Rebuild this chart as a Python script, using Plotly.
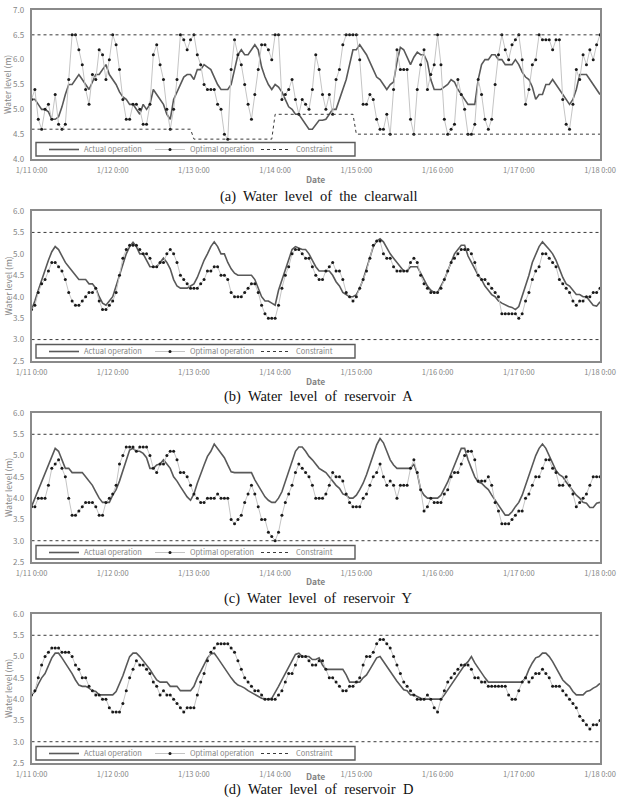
import pandas as pd
import plotly.graph_objects as go

# ---------------- data ----------------
start = "2018-01-11 00:00"
n_hours = 169
tick_labels = ["1/11 0:00", "1/12 0:00", "1/13 0:00", "1/14 0:00",
               "1/15 0:00", "1/16 0:00", "1/17 0:00", "1/18 0:00"]

series_names = ["Actual operation", "Optimal operation", "Constraint"]
captions = ["(a)\u00a0 Water\u00a0 level\u00a0 of\u00a0 the\u00a0 clearwall",
            "(b)\u00a0 Water\u00a0 level\u00a0 of\u00a0 reservoir\u00a0 A",
            "(c)\u00a0 Water\u00a0 level\u00a0 of\u00a0 reservoir\u00a0 Y",
            "(d)\u00a0 Water\u00a0 level\u00a0 of\u00a0 reservoir\u00a0 D"]

# (a) clearwall
opt_a = [5.2,5.4,4.8,4.6,5.0,5.1,4.8,5.3,4.7,4.6,4.7,5.6,
         6.5,6.5,6.2,5.9,5.4,5.1,5.7,5.6,6.2,6.1,5.6,6.0,
         6.5,6.3,5.8,5.2,4.8,4.8,5.1,5.1,5.0,4.7,4.7,5.1,
         6.1,6.3,5.9,5.6,5.0,4.6,5.0,5.6,6.5,6.4,6.2,6.4,
         6.5,6.1,5.9,5.5,5.4,5.4,5.4,5.1,5.0,4.5,4.4,5.8,
         6.4,6.1,5.9,5.5,5.1,4.8,5.3,5.8,6.3,6.3,6.2,6.0,
         6.5,6.5,5.2,5.3,5.4,5.6,5.2,4.9,5.2,5.1,5.0,5.4,
         6.1,5.8,5.3,5.0,5.3,4.9,5.6,5.8,6.3,6.5,6.5,6.5,
         6.5,6.0,5.1,5.1,5.3,5.2,4.8,4.6,4.6,4.9,4.5,5.4,
         6.2,5.8,5.8,5.8,4.8,4.5,5.4,5.9,6.2,5.4,5.7,5.9,
         6.5,5.9,4.8,4.5,4.6,4.7,5.6,5.3,5.0,4.5,4.5,4.7,
         5.6,5.3,4.8,4.6,4.8,5.5,6.1,6.5,6.2,6.0,6.3,6.4,
         6.5,6.0,5.1,5.4,5.9,6.0,6.5,6.4,6.4,6.4,6.2,6.4,
         6.4,5.2,4.7,4.6,5.1,5.8,5.6,6.1,5.9,6.2,6.0,6.3,
         6.5]
act_a = [5.2,5.2,5.1,5.0,5.0,4.95,4.8,4.8,4.85,5.05,5.3,5.5,
         5.5,5.6,5.7,5.6,5.5,5.4,5.55,5.7,5.7,5.8,5.9,5.7,
         5.6,5.5,5.35,5.25,5.2,5.1,5.1,5.0,4.9,5.1,5.0,5.1,
         5.4,5.3,5.2,5.1,4.9,4.8,5.2,5.35,5.5,5.65,5.7,5.7,
         5.6,5.8,5.8,5.9,5.85,5.8,5.65,5.5,5.4,5.4,5.4,5.5,
         5.8,6.1,6.2,6.1,6.1,6.2,6.3,6.2,5.85,5.65,5.5,5.4,
         5.5,5.45,5.35,5.2,5.05,5.0,4.9,4.9,4.8,4.7,4.6,4.6,
         4.7,4.78,4.78,4.8,
         4.9,5.0,5.0,5.2,5.4,5.6,5.9,6.2,6.2,6.3,6.2,6.1,5.95,5.8,5.65,5.6,
         5.5,5.4,5.5,5.55,5.95,6.25,6.2,
         6.05,5.9,6.05,6.15,6.1,6.1,5.95,5.6,5.4,5.4,5.4,5.45,5.5,5.6,5.55,
         5.4,5.3,5.2,5.1,5.1,5.1,5.6,5.9,6.0,6.0,6.1,6.1,6.0,6.0,5.9,5.9,
         5.9,6.0,5.9,5.75,5.65,5.6,5.45,5.2,5.3,5.3,5.5,5.5,5.6,5.5,5.4,
         5.3,5.2,5.1,5.2,5.4,5.7,5.7,5.7,5.6,5.5,5.4,5.3]
upper_a = [6.5] * 169
lower_a = [4.6] * 48 + [4.4] * 24 + [4.9] * 24 + [4.5] * 73

# (b) reservoir A
opt_b = [3.7,3.8,4.1,4.3,4.4,4.6,4.8,4.8,4.7,4.6,4.4,4.1,
         3.9,3.8,3.8,3.9,4.0,4.1,4.1,4.2,3.9,3.7,3.7,3.8,
         3.9,4.1,4.5,4.9,5.1,5.2,5.2,5.2,5.1,5.0,5.0,4.9,
         4.7,4.7,4.8,4.8,5.0,5.1,5.0,4.8,4.5,4.4,4.3,4.2,
         4.2,4.2,4.3,4.4,4.6,4.6,4.7,4.7,4.5,4.5,4.4,4.1,
         4.0,4.0,4.0,4.1,4.2,4.3,4.3,4.1,3.8,3.6,3.5,3.5,
         3.5,3.8,4.2,4.5,4.7,5.0,5.1,5.1,5.0,4.9,4.9,4.7,
         4.5,4.4,4.4,4.6,4.7,4.8,4.6,4.6,4.4,4.1,4.0,3.9,
         4.0,4.2,4.4,4.6,4.9,5.2,5.3,5.3,5.0,4.9,4.9,4.7,
         4.6,4.6,4.6,4.6,4.8,4.9,4.8,4.5,4.3,4.2,4.1,4.1,
         4.1,4.2,4.4,4.6,4.8,4.9,5.0,5.1,5.1,5.1,5.0,4.8,
         4.5,4.4,4.4,4.3,4.2,4.1,4.0,3.6,3.6,3.6,3.6,3.6,
         3.5,3.6,3.9,4.1,4.4,4.6,4.7,5.0,5.0,4.9,4.8,4.7,
         4.4,4.3,4.2,4.1,3.9,3.8,3.9,3.9,4.0,4.0,4.1,4.1,
         4.2]
act_b = [3.7,3.9,4.15,4.4,4.65,4.85,5.05,5.17,5.1,4.95,4.8,4.7,
         4.6,4.5,4.4,4.4,4.4,4.3,4.3,4.2,4.0,3.85,3.8,3.9,
         4.0,4.25,4.5,4.8,5.0,5.17,5.27,5.17,5.0,5.0,4.85,4.7,
         4.7,4.7,4.8,4.9,4.8,4.65,4.4,4.25,4.2,4.2,4.2,4.25,
         4.3,4.45,4.65,4.85,5.0,5.17,5.28,5.17,5.0,5.0,4.8,4.65,
         4.55,4.5,4.5,4.5,4.5,4.5,4.4,4.2,4.0,3.9,3.9,3.85,
         3.8,4.15,4.4,4.65,4.9,5.1,5.17,5.13,5.1,5.1,5.0,4.85,4.7,
         4.6,4.6,4.6,4.6,4.5,4.35,4.25,4.1,4.05,4.0,4.0,4.05,
         4.2,4.4,4.65,4.9,5.17,5.3,5.35,5.28,5.13,5.0,4.9,4.8,
         4.7,4.6,4.6,4.7,4.7,4.7,4.55,4.4,4.25,4.15,4.1,4.1,
         4.25,4.4,4.6,4.8,5.0,5.1,5.2,5.2,4.95,4.8,4.65,4.5,
         4.4,4.25,4.15,4.05,4.0,3.9,3.85,3.8,3.77,3.75,3.7,3.77,
         4.0,4.25,4.5,4.8,5.0,5.17,5.28,5.2,5.1,5.0,4.85,4.65,
         4.45,4.3,4.25,4.15,4.05,4.05,4.0,4.0,3.9,3.8,3.78,3.88]

# (c) reservoir Y
opt_c = [3.8,3.8,4.0,4.0,4.0,4.3,4.7,4.8,4.9,4.7,4.5,4.0,
         3.6,3.6,3.7,3.8,3.9,3.9,3.9,3.8,3.6,3.6,3.9,4.0,
         4.1,4.3,4.8,5.0,5.2,5.2,5.2,5.1,5.2,5.2,5.2,5.0,
         4.7,4.6,4.8,4.8,5.0,5.1,5.1,4.9,4.6,4.6,4.5,4.3,
         4.1,4.0,3.9,3.9,4.0,4.0,4.0,4.1,4.0,4.0,4.0,3.5,
         3.4,3.5,3.6,3.9,4.1,4.3,4.1,3.8,3.5,3.5,3.2,3.1,
         3.0,3.2,3.6,3.9,4.1,4.3,4.6,4.8,4.7,4.6,4.5,4.3,
         4.0,4.0,4.0,4.1,4.3,4.6,4.5,4.5,4.4,4.1,3.9,3.8,
         3.8,3.8,4.0,4.1,4.3,4.5,4.6,4.8,4.5,4.3,4.4,4.3,
         4.0,4.3,4.3,4.3,4.7,4.9,4.6,4.2,3.7,3.8,4.0,3.9,
         3.9,3.9,4.1,4.2,4.5,4.6,4.6,4.8,5.0,5.1,5.1,4.9,
         4.4,4.4,4.4,4.5,4.3,3.9,3.7,3.4,3.4,3.4,3.5,3.6,
         3.7,3.7,4.0,4.1,4.3,4.5,4.5,4.7,4.9,4.9,4.7,4.6,
         4.3,4.3,4.5,4.3,4.1,3.8,3.9,4.0,4.1,4.3,4.5,4.5,
         4.5]
act_c = [3.8,4.0,4.2,4.4,4.6,4.8,5.0,5.17,5.1,4.9,4.7,4.7,
         4.6,4.6,4.6,4.6,4.5,4.4,4.3,4.15,4.0,3.9,3.9,3.9,
         4.07,4.2,4.4,4.65,4.9,5.13,5.17,5.1,5.1,5.05,4.95,4.7,
         4.7,4.78,4.8,4.9,4.8,4.7,4.5,4.4,4.27,4.15,4.03,3.95,
         4.1,4.35,4.58,4.78,4.98,5.1,5.27,5.17,5.05,4.95,4.78,4.62,
         4.6,4.6,4.6,4.6,4.6,4.6,4.43,4.3,4.15,4.03,3.95,3.9,
         3.9,4.0,4.15,4.4,4.65,4.9,5.1,5.2,5.2,5.1,4.98,4.9,
         4.8,4.7,
         4.65,4.6,4.5,4.4,4.3,4.23,4.1,4.07,4.0,4.0,4.07,4.2,4.35,4.55,
         4.78,5.05,5.25,5.4,5.3,5.1,4.9,4.78,4.7,4.7,4.7,4.7,4.7,4.8,
         4.58,4.2,4.07,4.0,4.0,4.0,4.0,4.07,4.23,4.38,4.58,4.78,5.0,5.17,
         5.17,4.9,4.7,4.5,4.38,4.35,4.27,4.2,4.07,3.95,3.83,3.72,3.6,3.6,
         3.68,3.8,3.9,4.07,4.3,4.55,4.78,5.0,5.17,5.27,5.17,5.0,4.85,4.65,
         4.55,4.5,4.38,4.27,4.15,4.07,4.0,3.9,3.88,3.78,3.78,3.88,3.9]

# (d) reservoir D
opt_d = [4.1,4.2,4.5,4.8,5.0,5.1,5.2,5.2,5.2,5.1,5.1,5.1,
         5.0,4.8,4.7,4.5,4.5,4.3,4.2,4.1,4.1,4.0,4.0,3.8,
         3.7,3.7,3.7,3.9,4.2,4.5,4.7,4.9,4.8,4.8,4.7,4.6,
         4.4,4.3,4.1,4.2,4.1,4.1,4.0,3.9,3.8,3.7,3.8,3.8,
         3.8,4.1,4.4,4.6,4.9,5.1,5.2,5.3,5.3,5.3,5.3,5.2,
         5.1,4.9,4.7,4.5,4.4,4.3,4.2,4.2,4.1,4.0,4.0,4.0,
         4.0,4.1,4.2,4.4,4.6,4.6,4.8,5.0,5.0,5.0,4.9,4.8,
         4.8,4.9,4.9,4.7,4.5,4.5,4.4,4.3,4.2,4.2,4.3,4.3,
         4.4,4.5,4.8,5.0,5.0,5.1,5.3,5.4,5.4,5.3,5.2,5.0,
         4.8,4.6,4.4,4.3,4.2,4.1,4.0,4.0,4.0,4.1,4.0,3.8,
         3.7,4.0,4.2,4.4,4.5,4.6,4.7,4.8,4.8,4.8,4.7,4.5,
         4.5,4.4,4.4,4.3,4.3,4.3,4.3,4.3,4.3,4.1,4.0,4.0,
         4.2,4.4,4.5,4.4,4.5,4.6,4.6,4.7,4.6,4.5,4.3,4.3,
         4.3,4.2,4.1,4.0,3.9,3.8,3.6,3.5,3.4,3.3,3.4,3.4,
         3.5]
act_d = [4.1,4.18,4.35,4.5,4.6,4.8,4.97,5.08,5.08,4.97,4.85,4.73,
         4.6,4.45,4.33,4.3,4.3,4.26,4.2,4.18,4.1,4.1,4.1,
         4.1,4.1,4.18,4.35,4.55,4.78,5.0,5.08,5.08,5.0,4.9,4.8,4.7,4.57,
         4.45,4.4,4.4,4.4,4.3,4.3,4.3,4.2,4.2,
         4.2,4.2,4.3,4.5,4.65,4.8,4.97,5.06,5.08,4.97,4.85,4.73,4.6,4.5,
         4.4,4.33,4.3,4.26,4.2,4.15,4.1,4.06,4.02,4.0,4.0,4.02,4.15,4.3,
         4.45,4.6,4.78,4.93,5.05,5.08,5.0,5.0,5.0,4.93,4.93,
         4.97,4.8,4.7,4.7,4.7,4.7,4.7,4.7,4.57,4.4,4.4,4.4,4.4,4.5,4.57,
         4.7,4.85,4.97,5.0,4.88,4.78,4.65,4.54,4.42,4.32,4.22,4.2,4.1,4.1,
         4.06,4.02,4.0,4.0,4.0,4.0,4.0,4.0,4.1,4.22,4.33,4.45,4.57,4.7,
         4.8,4.88,5.0,4.85,4.73,4.6,4.5,4.4,
         4.4,4.4,4.4,4.4,4.4,4.4,4.4,4.4,4.4,4.4,
         4.5,4.7,4.85,4.97,5.0,5.08,5.08,5.0,4.88,4.73,4.57,4.45,4.37,4.3,
         4.18,4.1,4.1,4.1,4.18,4.2,4.26,4.3,4.37]

upper_res = [5.5] * 169
lower_res = [3.0] * 169

y_ranges = [[4.0, 7.0], [2.5, 6.0], [2.5, 6.0], [2.5, 6.0]]
panels = [(act_a, opt_a, upper_a, lower_a),
          (act_b, opt_b, upper_res, lower_res),
          (act_c, opt_c, upper_res, lower_res),
          (act_d, opt_d, upper_res, lower_res)]

# ---------------- layout geometry (pixels) ----------------
W, H = 636, 798
plot_left, plot_right = 31.5, 600
panel_px = [(10, 159), (211, 361), (413, 562), (614, 763)]
caption_y = [196, 396, 598, 789.5]
date_y = [179, 381, 581, 776]

times = pd.date_range(start, periods=n_hours, freq="h")
tick_vals = pd.date_range(start, periods=len(tick_labels), freq="D")

GRAY_TXT = "#858585"
FONT = "Noto Sans CJK KR, Liberation Sans, Arial"

def py(px):
    return 1 - px / H

fig = go.Figure()
layout = dict(width=W, height=H, margin=dict(l=0, r=0, t=0, b=0, autoexpand=False),
              paper_bgcolor="white", plot_bgcolor="white",
              showlegend=True, shapes=[], annotations=[])

for i, (act, opt, up, lo) in enumerate(panels):
    sfx = "" if i == 0 else str(i + 1)
    xa, ya = "x" + sfx, "y" + sfx
    lg = "legend" + sfx
    fig.add_trace(go.Scatter(x=times, y=act, mode="lines", name=series_names[0],
                             line=dict(color="#595959", width=1.6),
                             xaxis=xa, yaxis=ya, legend=lg))
    fig.add_trace(go.Scatter(x=times, y=opt, mode="lines+markers", name=series_names[1],
                             line=dict(color="#c4c4c4", width=1),
                             marker=dict(color="#1a1a1a", size=3, symbol="circle"),
                             xaxis=xa, yaxis=ya, legend=lg))
    fig.add_trace(go.Scatter(x=times, y=up, mode="lines", name=series_names[2],
                             line=dict(color="#3a3a3a", width=1, dash="dot"),
                             xaxis=xa, yaxis=ya, legend=lg))
    fig.add_trace(go.Scatter(x=times, y=lo, mode="lines", name=series_names[2],
                             line=dict(color="#3a3a3a", width=1, dash="dot"),
                             xaxis=xa, yaxis=ya, legend=lg, showlegend=False))

    top, bot = panel_px[i]
    layout["xaxis" + sfx] = dict(
        domain=[plot_left / W, plot_right / W], anchor=ya, automargin=False,
        range=[times[0], times[-1]], tickvals=list(tick_vals), ticktext=tick_labels,
        showgrid=False, zeroline=False, showline=True, mirror=True,
        linecolor="#8a8a8a", linewidth=1.5, ticks="", ticklabelstandoff=3,
        tickfont=dict(size=7.5, color=GRAY_TXT, family=FONT))
    layout["yaxis" + sfx] = dict(
        domain=[py(bot), py(top)], anchor=xa, automargin=False, range=y_ranges[i],
        dtick=0.5, tickformat=".1f", showgrid=False, zeroline=False, showline=True,
        mirror=True, linecolor="#8a8a8a", linewidth=1.5, ticks="", ticklabelstandoff=4,
        tickfont=dict(size=8, color=GRAY_TXT, family=FONT))
    layout[lg] = dict(orientation="h", x=44 / W, y=py(bot - 9.5), xanchor="left",
                      yanchor="middle", bgcolor="rgba(0,0,0,0)", borderwidth=0,
                      font=dict(size=7.5, color=GRAY_TXT, family=FONT),
                      entrywidth=61, entrywidthmode="pixels", itemwidth=30)
    # legend frame
    layout["shapes"].append(dict(type="rect", xref="paper", yref="paper",
                                 x0=36 / W, x1=355 / W, y0=py(bot - 3), y1=py(bot - 16.5),
                                 line=dict(color="#5a5a5a", width=1.4), layer="above"))
    # axis titles and caption
    layout["annotations"].append(dict(text="Water level (m)", textangle=-90,
                                      xref="paper", yref="paper", x=7.5 / W,
                                      y=py((top + bot) / 2), xanchor="center",
                                      yanchor="middle", showarrow=False,
                                      font=dict(size=8.5, color=GRAY_TXT, family=FONT)))
    layout["annotations"].append(dict(text="<b>Date</b>", xref="paper", yref="paper",
                                      x=(plot_left + plot_right) / 2 / W, y=py(date_y[i]),
                                      xanchor="center", yanchor="middle", showarrow=False,
                                      font=dict(size=8.5, color=GRAY_TXT, family=FONT)))
    layout["annotations"].append(dict(text=captions[i], xref="paper", yref="paper",
                                      x=318 / W, y=py(caption_y[i]), xanchor="center",
                                      yanchor="middle", showarrow=False,
                                      font=dict(size=14.5, color="#111111",
                                                family="Liberation Serif, DejaVu Serif, serif")))

fig.update_layout(**layout)
fig.write_html("out.html")
